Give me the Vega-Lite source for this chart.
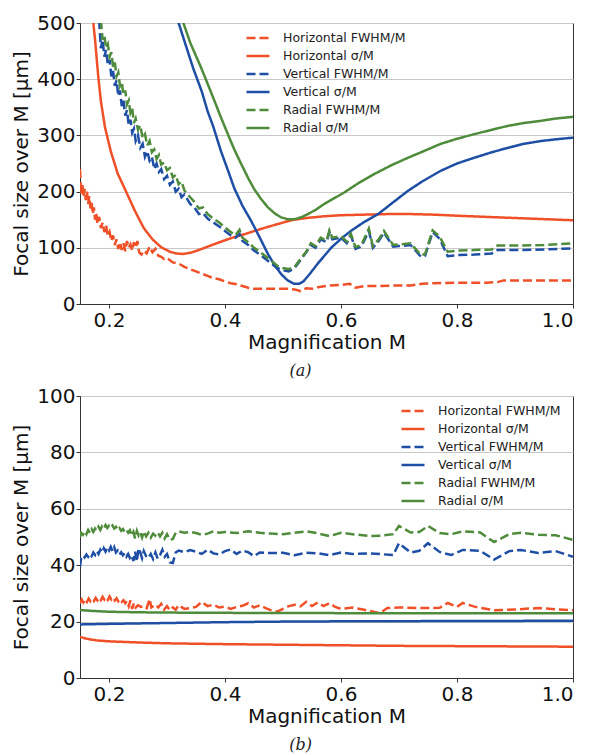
{
  "$schema": "https://vega.github.io/schema/vega-lite/v6.json",
  "background": "white",
  "padding": {"left": 11, "top": 12, "right": 0, "bottom": 0},
  "spacing": 5,
  "config": {
    "view": {"stroke": "#333333", "strokeWidth": 1},
    "axis": {
      "labelFont": "DejaVu Sans", "titleFont": "DejaVu Sans",
      "labelFontSize": 20, "titleFontSize": 20, "titleFontWeight": "normal",
      "labelColor": "#111111", "titleColor": "#111111",
      "domainColor": "#333333", "tickColor": "#333333", "tickSize": 4,
      "labelPadding": 2, "gridColor": "#c8c8c8", "gridWidth": 1
    },
    "axisY": {"labelPadding": 1},
    "legend": {
      "labelFont": "DejaVu Sans", "labelFontSize": 12.5, "labelColor": "#222222",
      "padding": 0
    },
    "title": {"font": "DejaVu Serif", "fontStyle": "italic", "fontSize": 16, "fontWeight": "normal", "color": "#222222"}
  },
  "resolve": {"scale": {"color": "independent", "strokeDash": "independent"}, "legend": {"color": "independent", "strokeDash": "independent"}},
  "datasets": {
    "a": [
      {"series":"Horizontal FWHM/M","M":0.150,"size":240},{"series":"Horizontal FWHM/M","M":0.152,"size":195},{"series":"Horizontal FWHM/M","M":0.154,"size":215},{"series":"Horizontal FWHM/M","M":0.156,"size":190},{"series":"Horizontal FWHM/M","M":0.158,"size":205},{"series":"Horizontal FWHM/M","M":0.160,"size":185},{"series":"Horizontal FWHM/M","M":0.162,"size":200},{"series":"Horizontal FWHM/M","M":0.164,"size":178},{"series":"Horizontal FWHM/M","M":0.166,"size":192},{"series":"Horizontal FWHM/M","M":0.168,"size":170},{"series":"Horizontal FWHM/M","M":0.170,"size":180},{"series":"Horizontal FWHM/M","M":0.172,"size":160},{"series":"Horizontal FWHM/M","M":0.174,"size":172},{"series":"Horizontal FWHM/M","M":0.176,"size":150},{"series":"Horizontal FWHM/M","M":0.178,"size":162},{"series":"Horizontal FWHM/M","M":0.180,"size":142},{"series":"Horizontal FWHM/M","M":0.183,"size":155},{"series":"Horizontal FWHM/M","M":0.186,"size":135},{"series":"Horizontal FWHM/M","M":0.189,"size":145},{"series":"Horizontal FWHM/M","M":0.192,"size":128},{"series":"Horizontal FWHM/M","M":0.195,"size":140},{"series":"Horizontal FWHM/M","M":0.198,"size":120},{"series":"Horizontal FWHM/M","M":0.201,"size":128},{"series":"Horizontal FWHM/M","M":0.204,"size":112},{"series":"Horizontal FWHM/M","M":0.207,"size":122},{"series":"Horizontal FWHM/M","M":0.210,"size":105},{"series":"Horizontal FWHM/M","M":0.213,"size":115},{"series":"Horizontal FWHM/M","M":0.216,"size":98},{"series":"Horizontal FWHM/M","M":0.219,"size":110},{"series":"Horizontal FWHM/M","M":0.222,"size":96},{"series":"Horizontal FWHM/M","M":0.225,"size":108},{"series":"Horizontal FWHM/M","M":0.228,"size":94},{"series":"Horizontal FWHM/M","M":0.231,"size":112},{"series":"Horizontal FWHM/M","M":0.234,"size":100},{"series":"Horizontal FWHM/M","M":0.237,"size":106},{"series":"Horizontal FWHM/M","M":0.240,"size":95},{"series":"Horizontal FWHM/M","M":0.243,"size":110},{"series":"Horizontal FWHM/M","M":0.246,"size":100},{"series":"Horizontal FWHM/M","M":0.249,"size":112},{"series":"Horizontal FWHM/M","M":0.252,"size":92},{"series":"Horizontal FWHM/M","M":0.256,"size":88},{"series":"Horizontal FWHM/M","M":0.260,"size":95},{"series":"Horizontal FWHM/M","M":0.265,"size":90},{"series":"Horizontal FWHM/M","M":0.270,"size":102},{"series":"Horizontal FWHM/M","M":0.275,"size":92},{"series":"Horizontal FWHM/M","M":0.280,"size":98},{"series":"Horizontal FWHM/M","M":0.285,"size":86},{"series":"Horizontal FWHM/M","M":0.290,"size":84},{"series":"Horizontal FWHM/M","M":0.295,"size":80},{"series":"Horizontal FWHM/M","M":0.300,"size":82},{"series":"Horizontal FWHM/M","M":0.310,"size":74},{"series":"Horizontal FWHM/M","M":0.320,"size":72},{"series":"Horizontal FWHM/M","M":0.330,"size":66},{"series":"Horizontal FWHM/M","M":0.340,"size":62},{"series":"Horizontal FWHM/M","M":0.350,"size":58},{"series":"Horizontal FWHM/M","M":0.360,"size":54},{"series":"Horizontal FWHM/M","M":0.370,"size":50},{"series":"Horizontal FWHM/M","M":0.380,"size":46},{"series":"Horizontal FWHM/M","M":0.390,"size":44},{"series":"Horizontal FWHM/M","M":0.400,"size":40},{"series":"Horizontal FWHM/M","M":0.410,"size":37},{"series":"Horizontal FWHM/M","M":0.420,"size":35},{"series":"Horizontal FWHM/M","M":0.430,"size":32},{"series":"Horizontal FWHM/M","M":0.440,"size":29},{"series":"Horizontal FWHM/M","M":0.450,"size":27},{"series":"Horizontal FWHM/M","M":0.470,"size":27},{"series":"Horizontal FWHM/M","M":0.490,"size":27},{"series":"Horizontal FWHM/M","M":0.510,"size":27},{"series":"Horizontal FWHM/M","M":0.520,"size":26},{"series":"Horizontal FWHM/M","M":0.530,"size":23},{"series":"Horizontal FWHM/M","M":0.540,"size":28},{"series":"Horizontal FWHM/M","M":0.550,"size":27},{"series":"Horizontal FWHM/M","M":0.560,"size":30},{"series":"Horizontal FWHM/M","M":0.580,"size":33},{"series":"Horizontal FWHM/M","M":0.600,"size":34},{"series":"Horizontal FWHM/M","M":0.615,"size":36},{"series":"Horizontal FWHM/M","M":0.625,"size":29},{"series":"Horizontal FWHM/M","M":0.640,"size":32},{"series":"Horizontal FWHM/M","M":0.660,"size":32},{"series":"Horizontal FWHM/M","M":0.700,"size":33},{"series":"Horizontal FWHM/M","M":0.720,"size":33},{"series":"Horizontal FWHM/M","M":0.740,"size":36},{"series":"Horizontal FWHM/M","M":0.760,"size":37},{"series":"Horizontal FWHM/M","M":0.800,"size":38},{"series":"Horizontal FWHM/M","M":0.850,"size":38},{"series":"Horizontal FWHM/M","M":0.870,"size":39},{"series":"Horizontal FWHM/M","M":0.880,"size":42},{"series":"Horizontal FWHM/M","M":0.920,"size":42},{"series":"Horizontal FWHM/M","M":1.000,"size":42},
      {"series":"Horizontal σ/M","M":0.172,"size":510},{"series":"Horizontal σ/M","M":0.176,"size":470},{"series":"Horizontal σ/M","M":0.181,"size":410},{"series":"Horizontal σ/M","M":0.186,"size":361},{"series":"Horizontal σ/M","M":0.193,"size":315},{"series":"Horizontal σ/M","M":0.203,"size":272},{"series":"Horizontal σ/M","M":0.215,"size":232},{"series":"Horizontal σ/M","M":0.229,"size":201},{"series":"Horizontal σ/M","M":0.245,"size":165},{"series":"Horizontal σ/M","M":0.260,"size":135},{"series":"Horizontal σ/M","M":0.275,"size":115},{"series":"Horizontal σ/M","M":0.290,"size":101},{"series":"Horizontal σ/M","M":0.305,"size":93},{"series":"Horizontal σ/M","M":0.315,"size":90},{"series":"Horizontal σ/M","M":0.327,"size":89},{"series":"Horizontal σ/M","M":0.340,"size":91},{"series":"Horizontal σ/M","M":0.355,"size":96},{"series":"Horizontal σ/M","M":0.370,"size":102},{"series":"Horizontal σ/M","M":0.388,"size":109},{"series":"Horizontal σ/M","M":0.410,"size":117},{"series":"Horizontal σ/M","M":0.433,"size":124},{"series":"Horizontal σ/M","M":0.460,"size":133},{"series":"Horizontal σ/M","M":0.490,"size":142},{"series":"Horizontal σ/M","M":0.514,"size":149},{"series":"Horizontal σ/M","M":0.540,"size":153},{"series":"Horizontal σ/M","M":0.570,"size":156},{"series":"Horizontal σ/M","M":0.600,"size":158},{"series":"Horizontal σ/M","M":0.640,"size":159},{"series":"Horizontal σ/M","M":0.681,"size":160},{"series":"Horizontal σ/M","M":0.720,"size":160},{"series":"Horizontal σ/M","M":0.760,"size":159},{"series":"Horizontal σ/M","M":0.802,"size":157},{"series":"Horizontal σ/M","M":0.850,"size":155},{"series":"Horizontal σ/M","M":0.900,"size":153},{"series":"Horizontal σ/M","M":0.950,"size":151},{"series":"Horizontal σ/M","M":1.000,"size":149},
      {"series":"Vertical FWHM/M","M":0.183,"size":505},{"series":"Vertical FWHM/M","M":0.186,"size":455},{"series":"Vertical FWHM/M","M":0.189,"size":470},{"series":"Vertical FWHM/M","M":0.192,"size":440},{"series":"Vertical FWHM/M","M":0.195,"size":452},{"series":"Vertical FWHM/M","M":0.198,"size":425},{"series":"Vertical FWHM/M","M":0.201,"size":435},{"series":"Vertical FWHM/M","M":0.204,"size":405},{"series":"Vertical FWHM/M","M":0.207,"size":415},{"series":"Vertical FWHM/M","M":0.210,"size":388},{"series":"Vertical FWHM/M","M":0.213,"size":398},{"series":"Vertical FWHM/M","M":0.216,"size":370},{"series":"Vertical FWHM/M","M":0.219,"size":380},{"series":"Vertical FWHM/M","M":0.222,"size":352},{"series":"Vertical FWHM/M","M":0.225,"size":362},{"series":"Vertical FWHM/M","M":0.228,"size":335},{"series":"Vertical FWHM/M","M":0.231,"size":345},{"series":"Vertical FWHM/M","M":0.234,"size":318},{"series":"Vertical FWHM/M","M":0.237,"size":328},{"series":"Vertical FWHM/M","M":0.240,"size":305},{"series":"Vertical FWHM/M","M":0.243,"size":312},{"series":"Vertical FWHM/M","M":0.246,"size":290},{"series":"Vertical FWHM/M","M":0.250,"size":300},{"series":"Vertical FWHM/M","M":0.254,"size":278},{"series":"Vertical FWHM/M","M":0.258,"size":285},{"series":"Vertical FWHM/M","M":0.262,"size":262},{"series":"Vertical FWHM/M","M":0.266,"size":272},{"series":"Vertical FWHM/M","M":0.270,"size":255},{"series":"Vertical FWHM/M","M":0.274,"size":262},{"series":"Vertical FWHM/M","M":0.278,"size":240},{"series":"Vertical FWHM/M","M":0.282,"size":250},{"series":"Vertical FWHM/M","M":0.286,"size":235},{"series":"Vertical FWHM/M","M":0.290,"size":240},{"series":"Vertical FWHM/M","M":0.295,"size":222},{"series":"Vertical FWHM/M","M":0.300,"size":228},{"series":"Vertical FWHM/M","M":0.305,"size":212},{"series":"Vertical FWHM/M","M":0.310,"size":218},{"series":"Vertical FWHM/M","M":0.315,"size":200},{"series":"Vertical FWHM/M","M":0.320,"size":205},{"series":"Vertical FWHM/M","M":0.325,"size":190},{"series":"Vertical FWHM/M","M":0.330,"size":195},{"series":"Vertical FWHM/M","M":0.340,"size":178},{"series":"Vertical FWHM/M","M":0.347,"size":172},{"series":"Vertical FWHM/M","M":0.355,"size":160},{"series":"Vertical FWHM/M","M":0.362,"size":162},{"series":"Vertical FWHM/M","M":0.370,"size":152},{"series":"Vertical FWHM/M","M":0.380,"size":145},{"series":"Vertical FWHM/M","M":0.390,"size":138},{"series":"Vertical FWHM/M","M":0.400,"size":130},{"series":"Vertical FWHM/M","M":0.410,"size":122},{"series":"Vertical FWHM/M","M":0.418,"size":118},{"series":"Vertical FWHM/M","M":0.425,"size":125},{"series":"Vertical FWHM/M","M":0.430,"size":112},{"series":"Vertical FWHM/M","M":0.440,"size":105},{"series":"Vertical FWHM/M","M":0.450,"size":95},{"series":"Vertical FWHM/M","M":0.460,"size":88},{"series":"Vertical FWHM/M","M":0.470,"size":80},{"series":"Vertical FWHM/M","M":0.480,"size":72},{"series":"Vertical FWHM/M","M":0.490,"size":64},{"series":"Vertical FWHM/M","M":0.500,"size":60},{"series":"Vertical FWHM/M","M":0.510,"size":58},{"series":"Vertical FWHM/M","M":0.520,"size":64},{"series":"Vertical FWHM/M","M":0.530,"size":78},{"series":"Vertical FWHM/M","M":0.540,"size":92},{"series":"Vertical FWHM/M","M":0.548,"size":105},{"series":"Vertical FWHM/M","M":0.556,"size":100},{"series":"Vertical FWHM/M","M":0.565,"size":115},{"series":"Vertical FWHM/M","M":0.575,"size":110},{"series":"Vertical FWHM/M","M":0.580,"size":128},{"series":"Vertical FWHM/M","M":0.585,"size":115},{"series":"Vertical FWHM/M","M":0.600,"size":118},{"series":"Vertical FWHM/M","M":0.610,"size":108},{"series":"Vertical FWHM/M","M":0.617,"size":122},{"series":"Vertical FWHM/M","M":0.625,"size":98},{"series":"Vertical FWHM/M","M":0.635,"size":102},{"series":"Vertical FWHM/M","M":0.648,"size":130},{"series":"Vertical FWHM/M","M":0.655,"size":100},{"series":"Vertical FWHM/M","M":0.665,"size":112},{"series":"Vertical FWHM/M","M":0.674,"size":127},{"series":"Vertical FWHM/M","M":0.690,"size":102},{"series":"Vertical FWHM/M","M":0.700,"size":103},{"series":"Vertical FWHM/M","M":0.720,"size":105},{"series":"Vertical FWHM/M","M":0.738,"size":84},{"series":"Vertical FWHM/M","M":0.745,"size":86},{"series":"Vertical FWHM/M","M":0.758,"size":128},{"series":"Vertical FWHM/M","M":0.770,"size":116},{"series":"Vertical FWHM/M","M":0.784,"size":85},{"series":"Vertical FWHM/M","M":0.800,"size":87},{"series":"Vertical FWHM/M","M":0.830,"size":88},{"series":"Vertical FWHM/M","M":0.860,"size":90},{"series":"Vertical FWHM/M","M":0.870,"size":96},{"series":"Vertical FWHM/M","M":0.900,"size":96},{"series":"Vertical FWHM/M","M":0.950,"size":97},{"series":"Vertical FWHM/M","M":1.000,"size":99},
      {"series":"Vertical σ/M","M":0.317,"size":510},{"series":"Vertical σ/M","M":0.330,"size":468},{"series":"Vertical σ/M","M":0.345,"size":420},{"series":"Vertical σ/M","M":0.360,"size":378},{"series":"Vertical σ/M","M":0.370,"size":343},{"series":"Vertical σ/M","M":0.380,"size":315},{"series":"Vertical σ/M","M":0.393,"size":272},{"series":"Vertical σ/M","M":0.405,"size":238},{"series":"Vertical σ/M","M":0.416,"size":206},{"series":"Vertical σ/M","M":0.430,"size":175},{"series":"Vertical σ/M","M":0.445,"size":148},{"series":"Vertical σ/M","M":0.460,"size":118},{"series":"Vertical σ/M","M":0.474,"size":89},{"series":"Vertical σ/M","M":0.485,"size":70},{"series":"Vertical σ/M","M":0.497,"size":53},{"series":"Vertical σ/M","M":0.508,"size":42},{"series":"Vertical σ/M","M":0.519,"size":36},{"series":"Vertical σ/M","M":0.528,"size":36},{"series":"Vertical σ/M","M":0.535,"size":40},{"series":"Vertical σ/M","M":0.545,"size":52},{"series":"Vertical σ/M","M":0.560,"size":72},{"series":"Vertical σ/M","M":0.583,"size":100},{"series":"Vertical σ/M","M":0.600,"size":116},{"series":"Vertical σ/M","M":0.617,"size":130},{"series":"Vertical σ/M","M":0.640,"size":146},{"series":"Vertical σ/M","M":0.664,"size":160},{"series":"Vertical σ/M","M":0.690,"size":181},{"series":"Vertical σ/M","M":0.715,"size":201},{"series":"Vertical σ/M","M":0.740,"size":218},{"series":"Vertical σ/M","M":0.772,"size":237},{"series":"Vertical σ/M","M":0.800,"size":250},{"series":"Vertical σ/M","M":0.829,"size":260},{"series":"Vertical σ/M","M":0.860,"size":270},{"series":"Vertical σ/M","M":0.888,"size":278},{"series":"Vertical σ/M","M":0.915,"size":285},{"series":"Vertical σ/M","M":0.945,"size":290},{"series":"Vertical σ/M","M":0.970,"size":293},{"series":"Vertical σ/M","M":1.000,"size":296},
      {"series":"Radial FWHM/M","M":0.186,"size":505},{"series":"Radial FWHM/M","M":0.189,"size":470},{"series":"Radial FWHM/M","M":0.192,"size":478},{"series":"Radial FWHM/M","M":0.195,"size":455},{"series":"Radial FWHM/M","M":0.198,"size":462},{"series":"Radial FWHM/M","M":0.201,"size":440},{"series":"Radial FWHM/M","M":0.204,"size":448},{"series":"Radial FWHM/M","M":0.207,"size":422},{"series":"Radial FWHM/M","M":0.210,"size":430},{"series":"Radial FWHM/M","M":0.213,"size":405},{"series":"Radial FWHM/M","M":0.216,"size":412},{"series":"Radial FWHM/M","M":0.219,"size":388},{"series":"Radial FWHM/M","M":0.222,"size":395},{"series":"Radial FWHM/M","M":0.225,"size":372},{"series":"Radial FWHM/M","M":0.228,"size":380},{"series":"Radial FWHM/M","M":0.231,"size":355},{"series":"Radial FWHM/M","M":0.234,"size":362},{"series":"Radial FWHM/M","M":0.237,"size":340},{"series":"Radial FWHM/M","M":0.240,"size":348},{"series":"Radial FWHM/M","M":0.243,"size":322},{"series":"Radial FWHM/M","M":0.246,"size":330},{"series":"Radial FWHM/M","M":0.250,"size":310},{"series":"Radial FWHM/M","M":0.254,"size":318},{"series":"Radial FWHM/M","M":0.258,"size":295},{"series":"Radial FWHM/M","M":0.262,"size":302},{"series":"Radial FWHM/M","M":0.266,"size":282},{"series":"Radial FWHM/M","M":0.270,"size":290},{"series":"Radial FWHM/M","M":0.274,"size":270},{"series":"Radial FWHM/M","M":0.278,"size":275},{"series":"Radial FWHM/M","M":0.282,"size":258},{"series":"Radial FWHM/M","M":0.286,"size":265},{"series":"Radial FWHM/M","M":0.290,"size":248},{"series":"Radial FWHM/M","M":0.295,"size":252},{"series":"Radial FWHM/M","M":0.300,"size":238},{"series":"Radial FWHM/M","M":0.305,"size":242},{"series":"Radial FWHM/M","M":0.310,"size":225},{"series":"Radial FWHM/M","M":0.315,"size":230},{"series":"Radial FWHM/M","M":0.320,"size":213},{"series":"Radial FWHM/M","M":0.325,"size":218},{"series":"Radial FWHM/M","M":0.330,"size":202},{"series":"Radial FWHM/M","M":0.340,"size":190},{"series":"Radial FWHM/M","M":0.347,"size":182},{"series":"Radial FWHM/M","M":0.355,"size":170},{"series":"Radial FWHM/M","M":0.362,"size":172},{"series":"Radial FWHM/M","M":0.370,"size":160},{"series":"Radial FWHM/M","M":0.380,"size":152},{"series":"Radial FWHM/M","M":0.390,"size":145},{"series":"Radial FWHM/M","M":0.400,"size":136},{"series":"Radial FWHM/M","M":0.410,"size":128},{"series":"Radial FWHM/M","M":0.418,"size":122},{"series":"Radial FWHM/M","M":0.425,"size":132},{"series":"Radial FWHM/M","M":0.430,"size":118},{"series":"Radial FWHM/M","M":0.440,"size":110},{"series":"Radial FWHM/M","M":0.450,"size":100},{"series":"Radial FWHM/M","M":0.460,"size":93},{"series":"Radial FWHM/M","M":0.470,"size":85},{"series":"Radial FWHM/M","M":0.480,"size":77},{"series":"Radial FWHM/M","M":0.490,"size":68},{"series":"Radial FWHM/M","M":0.500,"size":64},{"series":"Radial FWHM/M","M":0.510,"size":62},{"series":"Radial FWHM/M","M":0.520,"size":66},{"series":"Radial FWHM/M","M":0.530,"size":80},{"series":"Radial FWHM/M","M":0.540,"size":93},{"series":"Radial FWHM/M","M":0.548,"size":108},{"series":"Radial FWHM/M","M":0.556,"size":103},{"series":"Radial FWHM/M","M":0.565,"size":118},{"series":"Radial FWHM/M","M":0.575,"size":113},{"series":"Radial FWHM/M","M":0.580,"size":131},{"series":"Radial FWHM/M","M":0.585,"size":118},{"series":"Radial FWHM/M","M":0.600,"size":121},{"series":"Radial FWHM/M","M":0.610,"size":111},{"series":"Radial FWHM/M","M":0.617,"size":125},{"series":"Radial FWHM/M","M":0.625,"size":101},{"series":"Radial FWHM/M","M":0.635,"size":105},{"series":"Radial FWHM/M","M":0.648,"size":134},{"series":"Radial FWHM/M","M":0.655,"size":103},{"series":"Radial FWHM/M","M":0.665,"size":115},{"series":"Radial FWHM/M","M":0.674,"size":130},{"series":"Radial FWHM/M","M":0.690,"size":105},{"series":"Radial FWHM/M","M":0.700,"size":106},{"series":"Radial FWHM/M","M":0.720,"size":108},{"series":"Radial FWHM/M","M":0.738,"size":87},{"series":"Radial FWHM/M","M":0.745,"size":89},{"series":"Radial FWHM/M","M":0.758,"size":131},{"series":"Radial FWHM/M","M":0.770,"size":120},{"series":"Radial FWHM/M","M":0.784,"size":93},{"series":"Radial FWHM/M","M":0.800,"size":95},{"series":"Radial FWHM/M","M":0.830,"size":96},{"series":"Radial FWHM/M","M":0.860,"size":97},{"series":"Radial FWHM/M","M":0.870,"size":104},{"series":"Radial FWHM/M","M":0.900,"size":104},{"series":"Radial FWHM/M","M":0.950,"size":105},{"series":"Radial FWHM/M","M":1.000,"size":108},
      {"series":"Radial σ/M","M":0.325,"size":510},{"series":"Radial σ/M","M":0.340,"size":465},{"series":"Radial σ/M","M":0.359,"size":420},{"series":"Radial σ/M","M":0.370,"size":392},{"series":"Radial σ/M","M":0.382,"size":361},{"series":"Radial σ/M","M":0.393,"size":332},{"series":"Radial σ/M","M":0.405,"size":302},{"series":"Radial σ/M","M":0.416,"size":275},{"series":"Radial σ/M","M":0.428,"size":249},{"series":"Radial σ/M","M":0.440,"size":224},{"series":"Radial σ/M","M":0.450,"size":205},{"series":"Radial σ/M","M":0.462,"size":187},{"series":"Radial σ/M","M":0.474,"size":172},{"series":"Radial σ/M","M":0.486,"size":161},{"series":"Radial σ/M","M":0.497,"size":154},{"series":"Radial σ/M","M":0.508,"size":151},{"series":"Radial σ/M","M":0.520,"size":151},{"series":"Radial σ/M","M":0.531,"size":154},{"series":"Radial σ/M","M":0.543,"size":160},{"series":"Radial σ/M","M":0.557,"size":168},{"series":"Radial σ/M","M":0.571,"size":178},{"series":"Radial σ/M","M":0.588,"size":188},{"series":"Radial σ/M","M":0.605,"size":198},{"series":"Radial σ/M","M":0.630,"size":215},{"series":"Radial σ/M","M":0.657,"size":231},{"series":"Radial σ/M","M":0.685,"size":246},{"series":"Radial σ/M","M":0.715,"size":260},{"series":"Radial σ/M","M":0.745,"size":273},{"series":"Radial σ/M","M":0.772,"size":285},{"series":"Radial σ/M","M":0.800,"size":294},{"series":"Radial σ/M","M":0.829,"size":302},{"series":"Radial σ/M","M":0.860,"size":310},{"series":"Radial σ/M","M":0.888,"size":317},{"series":"Radial σ/M","M":0.915,"size":322},{"series":"Radial σ/M","M":0.945,"size":326},{"series":"Radial σ/M","M":0.970,"size":330},{"series":"Radial σ/M","M":1.000,"size":333}
    ],
    "b": [
      {"series":"Horizontal FWHM/M","M":0.150,"size":26.5},{"series":"Horizontal FWHM/M","M":0.153,"size":27.8},{"series":"Horizontal FWHM/M","M":0.156,"size":26.8},{"series":"Horizontal FWHM/M","M":0.159,"size":28.0},{"series":"Horizontal FWHM/M","M":0.162,"size":27.0},{"series":"Horizontal FWHM/M","M":0.165,"size":28.2},{"series":"Horizontal FWHM/M","M":0.168,"size":27.2},{"series":"Horizontal FWHM/M","M":0.171,"size":28.0},{"series":"Horizontal FWHM/M","M":0.174,"size":27.3},{"series":"Horizontal FWHM/M","M":0.177,"size":28.4},{"series":"Horizontal FWHM/M","M":0.180,"size":27.5},{"series":"Horizontal FWHM/M","M":0.183,"size":28.5},{"series":"Horizontal FWHM/M","M":0.186,"size":27.6},{"series":"Horizontal FWHM/M","M":0.189,"size":28.8},{"series":"Horizontal FWHM/M","M":0.192,"size":27.8},{"series":"Horizontal FWHM/M","M":0.195,"size":28.6},{"series":"Horizontal FWHM/M","M":0.198,"size":27.7},{"series":"Horizontal FWHM/M","M":0.201,"size":28.9},{"series":"Horizontal FWHM/M","M":0.204,"size":27.8},{"series":"Horizontal FWHM/M","M":0.207,"size":28.5},{"series":"Horizontal FWHM/M","M":0.210,"size":27.5},{"series":"Horizontal FWHM/M","M":0.213,"size":28.3},{"series":"Horizontal FWHM/M","M":0.216,"size":27.2},{"series":"Horizontal FWHM/M","M":0.219,"size":27.9},{"series":"Horizontal FWHM/M","M":0.222,"size":27.0},{"series":"Horizontal FWHM/M","M":0.225,"size":27.6},{"series":"Horizontal FWHM/M","M":0.228,"size":26.5},{"series":"Horizontal FWHM/M","M":0.231,"size":27.3},{"series":"Horizontal FWHM/M","M":0.234,"size":25.5},{"series":"Horizontal FWHM/M","M":0.237,"size":27.5},{"series":"Horizontal FWHM/M","M":0.240,"size":24.5},{"series":"Horizontal FWHM/M","M":0.243,"size":26.5},{"series":"Horizontal FWHM/M","M":0.246,"size":25.0},{"series":"Horizontal FWHM/M","M":0.250,"size":25.8},{"series":"Horizontal FWHM/M","M":0.255,"size":25.2},{"series":"Horizontal FWHM/M","M":0.260,"size":25.6},{"series":"Horizontal FWHM/M","M":0.265,"size":24.8},{"series":"Horizontal FWHM/M","M":0.270,"size":28.0},{"series":"Horizontal FWHM/M","M":0.273,"size":25.0},{"series":"Horizontal FWHM/M","M":0.280,"size":26.0},{"series":"Horizontal FWHM/M","M":0.285,"size":25.0},{"series":"Horizontal FWHM/M","M":0.290,"size":26.3},{"series":"Horizontal FWHM/M","M":0.295,"size":24.2},{"series":"Horizontal FWHM/M","M":0.300,"size":25.5},{"series":"Horizontal FWHM/M","M":0.305,"size":24.0},{"series":"Horizontal FWHM/M","M":0.310,"size":25.0},{"series":"Horizontal FWHM/M","M":0.315,"size":24.2},{"series":"Horizontal FWHM/M","M":0.320,"size":25.8},{"series":"Horizontal FWHM/M","M":0.330,"size":24.5},{"series":"Horizontal FWHM/M","M":0.340,"size":24.8},{"series":"Horizontal FWHM/M","M":0.350,"size":25.2},{"series":"Horizontal FWHM/M","M":0.360,"size":27.0},{"series":"Horizontal FWHM/M","M":0.370,"size":25.5},{"series":"Horizontal FWHM/M","M":0.380,"size":26.0},{"series":"Horizontal FWHM/M","M":0.390,"size":25.0},{"series":"Horizontal FWHM/M","M":0.400,"size":25.3},{"series":"Horizontal FWHM/M","M":0.410,"size":24.5},{"series":"Horizontal FWHM/M","M":0.420,"size":25.2},{"series":"Horizontal FWHM/M","M":0.430,"size":25.6},{"series":"Horizontal FWHM/M","M":0.440,"size":26.5},{"series":"Horizontal FWHM/M","M":0.450,"size":25.0},{"series":"Horizontal FWHM/M","M":0.460,"size":25.8},{"series":"Horizontal FWHM/M","M":0.470,"size":24.8},{"series":"Horizontal FWHM/M","M":0.480,"size":24.0},{"series":"Horizontal FWHM/M","M":0.490,"size":23.5},{"series":"Horizontal FWHM/M","M":0.500,"size":24.5},{"series":"Horizontal FWHM/M","M":0.510,"size":25.5},{"series":"Horizontal FWHM/M","M":0.520,"size":26.0},{"series":"Horizontal FWHM/M","M":0.530,"size":25.4},{"series":"Horizontal FWHM/M","M":0.540,"size":27.0},{"series":"Horizontal FWHM/M","M":0.550,"size":25.5},{"series":"Horizontal FWHM/M","M":0.560,"size":26.8},{"series":"Horizontal FWHM/M","M":0.570,"size":25.5},{"series":"Horizontal FWHM/M","M":0.580,"size":26.5},{"series":"Horizontal FWHM/M","M":0.590,"size":25.2},{"series":"Horizontal FWHM/M","M":0.600,"size":24.5},{"series":"Horizontal FWHM/M","M":0.620,"size":25.0},{"series":"Horizontal FWHM/M","M":0.640,"size":24.2},{"series":"Horizontal FWHM/M","M":0.667,"size":23.0},{"series":"Horizontal FWHM/M","M":0.680,"size":24.8},{"series":"Horizontal FWHM/M","M":0.700,"size":25.0},{"series":"Horizontal FWHM/M","M":0.740,"size":24.8},{"series":"Horizontal FWHM/M","M":0.770,"size":24.9},{"series":"Horizontal FWHM/M","M":0.784,"size":26.6},{"series":"Horizontal FWHM/M","M":0.800,"size":25.2},{"series":"Horizontal FWHM/M","M":0.810,"size":26.6},{"series":"Horizontal FWHM/M","M":0.830,"size":25.3},{"series":"Horizontal FWHM/M","M":0.864,"size":24.0},{"series":"Horizontal FWHM/M","M":0.900,"size":24.3},{"series":"Horizontal FWHM/M","M":0.940,"size":24.8},{"series":"Horizontal FWHM/M","M":0.970,"size":24.4},{"series":"Horizontal FWHM/M","M":1.000,"size":24.0},
      {"series":"Horizontal σ/M","M":0.150,"size":14.6},{"series":"Horizontal σ/M","M":0.160,"size":14.0},{"series":"Horizontal σ/M","M":0.170,"size":13.6},{"series":"Horizontal σ/M","M":0.180,"size":13.3},{"series":"Horizontal σ/M","M":0.200,"size":13.0},{"series":"Horizontal σ/M","M":0.250,"size":12.6},{"series":"Horizontal σ/M","M":0.300,"size":12.3},{"series":"Horizontal σ/M","M":0.400,"size":12.0},{"series":"Horizontal σ/M","M":0.500,"size":11.8},{"series":"Horizontal σ/M","M":0.600,"size":11.6},{"series":"Horizontal σ/M","M":0.700,"size":11.4},{"series":"Horizontal σ/M","M":0.800,"size":11.3},{"series":"Horizontal σ/M","M":0.900,"size":11.2},{"series":"Horizontal σ/M","M":1.000,"size":11.1},
      {"series":"Vertical FWHM/M","M":0.150,"size":39.5},{"series":"Vertical FWHM/M","M":0.152,"size":42.5},{"series":"Vertical FWHM/M","M":0.155,"size":43.5},{"series":"Vertical FWHM/M","M":0.158,"size":42.8},{"series":"Vertical FWHM/M","M":0.161,"size":43.8},{"series":"Vertical FWHM/M","M":0.164,"size":43.0},{"series":"Vertical FWHM/M","M":0.167,"size":44.0},{"series":"Vertical FWHM/M","M":0.170,"size":43.2},{"series":"Vertical FWHM/M","M":0.173,"size":44.5},{"series":"Vertical FWHM/M","M":0.176,"size":43.6},{"series":"Vertical FWHM/M","M":0.179,"size":45.0},{"series":"Vertical FWHM/M","M":0.182,"size":44.0},{"series":"Vertical FWHM/M","M":0.185,"size":45.5},{"series":"Vertical FWHM/M","M":0.188,"size":44.5},{"series":"Vertical FWHM/M","M":0.191,"size":46.0},{"series":"Vertical FWHM/M","M":0.194,"size":44.8},{"series":"Vertical FWHM/M","M":0.197,"size":46.2},{"series":"Vertical FWHM/M","M":0.200,"size":45.2},{"series":"Vertical FWHM/M","M":0.203,"size":46.5},{"series":"Vertical FWHM/M","M":0.206,"size":45.0},{"series":"Vertical FWHM/M","M":0.209,"size":46.4},{"series":"Vertical FWHM/M","M":0.212,"size":44.5},{"series":"Vertical FWHM/M","M":0.215,"size":45.2},{"series":"Vertical FWHM/M","M":0.218,"size":43.8},{"series":"Vertical FWHM/M","M":0.221,"size":44.6},{"series":"Vertical FWHM/M","M":0.224,"size":43.5},{"series":"Vertical FWHM/M","M":0.227,"size":44.3},{"series":"Vertical FWHM/M","M":0.230,"size":43.0},{"series":"Vertical FWHM/M","M":0.233,"size":44.0},{"series":"Vertical FWHM/M","M":0.236,"size":42.6},{"series":"Vertical FWHM/M","M":0.239,"size":43.5},{"series":"Vertical FWHM/M","M":0.242,"size":41.5},{"series":"Vertical FWHM/M","M":0.245,"size":44.8},{"series":"Vertical FWHM/M","M":0.248,"size":41.3},{"series":"Vertical FWHM/M","M":0.251,"size":46.0},{"series":"Vertical FWHM/M","M":0.254,"size":44.5},{"series":"Vertical FWHM/M","M":0.257,"size":42.5},{"series":"Vertical FWHM/M","M":0.260,"size":45.0},{"series":"Vertical FWHM/M","M":0.264,"size":43.2},{"series":"Vertical FWHM/M","M":0.268,"size":42.5},{"series":"Vertical FWHM/M","M":0.272,"size":44.0},{"series":"Vertical FWHM/M","M":0.276,"size":42.2},{"series":"Vertical FWHM/M","M":0.280,"size":44.5},{"series":"Vertical FWHM/M","M":0.284,"size":42.3},{"series":"Vertical FWHM/M","M":0.288,"size":43.6},{"series":"Vertical FWHM/M","M":0.292,"size":45.5},{"series":"Vertical FWHM/M","M":0.296,"size":43.0},{"series":"Vertical FWHM/M","M":0.300,"size":44.0},{"series":"Vertical FWHM/M","M":0.305,"size":41.0},{"series":"Vertical FWHM/M","M":0.310,"size":40.8},{"series":"Vertical FWHM/M","M":0.315,"size":44.5},{"series":"Vertical FWHM/M","M":0.320,"size":45.2},{"series":"Vertical FWHM/M","M":0.330,"size":44.6},{"series":"Vertical FWHM/M","M":0.340,"size":45.4},{"series":"Vertical FWHM/M","M":0.350,"size":44.8},{"series":"Vertical FWHM/M","M":0.360,"size":44.0},{"series":"Vertical FWHM/M","M":0.370,"size":45.5},{"series":"Vertical FWHM/M","M":0.380,"size":44.2},{"series":"Vertical FWHM/M","M":0.390,"size":43.8},{"series":"Vertical FWHM/M","M":0.400,"size":45.0},{"series":"Vertical FWHM/M","M":0.410,"size":45.6},{"series":"Vertical FWHM/M","M":0.420,"size":44.0},{"series":"Vertical FWHM/M","M":0.430,"size":45.2},{"series":"Vertical FWHM/M","M":0.440,"size":44.6},{"series":"Vertical FWHM/M","M":0.450,"size":43.2},{"series":"Vertical FWHM/M","M":0.460,"size":44.5},{"series":"Vertical FWHM/M","M":0.480,"size":44.3},{"series":"Vertical FWHM/M","M":0.500,"size":44.4},{"series":"Vertical FWHM/M","M":0.520,"size":43.5},{"series":"Vertical FWHM/M","M":0.540,"size":44.4},{"series":"Vertical FWHM/M","M":0.560,"size":44.2},{"series":"Vertical FWHM/M","M":0.580,"size":43.6},{"series":"Vertical FWHM/M","M":0.600,"size":44.5},{"series":"Vertical FWHM/M","M":0.620,"size":44.0},{"series":"Vertical FWHM/M","M":0.650,"size":44.2},{"series":"Vertical FWHM/M","M":0.690,"size":43.6},{"series":"Vertical FWHM/M","M":0.700,"size":47.8},{"series":"Vertical FWHM/M","M":0.720,"size":44.5},{"series":"Vertical FWHM/M","M":0.735,"size":45.1},{"series":"Vertical FWHM/M","M":0.750,"size":47.8},{"series":"Vertical FWHM/M","M":0.770,"size":44.7},{"series":"Vertical FWHM/M","M":0.790,"size":43.6},{"series":"Vertical FWHM/M","M":0.810,"size":45.4},{"series":"Vertical FWHM/M","M":0.840,"size":45.1},{"series":"Vertical FWHM/M","M":0.864,"size":42.0},{"series":"Vertical FWHM/M","M":0.890,"size":45.0},{"series":"Vertical FWHM/M","M":0.910,"size":45.4},{"series":"Vertical FWHM/M","M":0.940,"size":44.3},{"series":"Vertical FWHM/M","M":0.970,"size":45.0},{"series":"Vertical FWHM/M","M":1.000,"size":43.0},
      {"series":"Vertical σ/M","M":0.150,"size":19.0},{"series":"Vertical σ/M","M":0.200,"size":19.2},{"series":"Vertical σ/M","M":0.300,"size":19.5},{"series":"Vertical σ/M","M":0.400,"size":19.8},{"series":"Vertical σ/M","M":0.500,"size":20.0},{"series":"Vertical σ/M","M":0.600,"size":20.1},{"series":"Vertical σ/M","M":0.800,"size":20.2},{"series":"Vertical σ/M","M":1.000,"size":20.3},
      {"series":"Radial FWHM/M","M":0.150,"size":50.0},{"series":"Radial FWHM/M","M":0.152,"size":51.5},{"series":"Radial FWHM/M","M":0.155,"size":50.8},{"series":"Radial FWHM/M","M":0.158,"size":52.0},{"series":"Radial FWHM/M","M":0.161,"size":51.0},{"series":"Radial FWHM/M","M":0.164,"size":52.5},{"series":"Radial FWHM/M","M":0.167,"size":51.5},{"series":"Radial FWHM/M","M":0.170,"size":52.8},{"series":"Radial FWHM/M","M":0.173,"size":51.8},{"series":"Radial FWHM/M","M":0.176,"size":53.0},{"series":"Radial FWHM/M","M":0.179,"size":52.2},{"series":"Radial FWHM/M","M":0.182,"size":53.6},{"series":"Radial FWHM/M","M":0.185,"size":52.5},{"series":"Radial FWHM/M","M":0.188,"size":53.8},{"series":"Radial FWHM/M","M":0.191,"size":53.0},{"series":"Radial FWHM/M","M":0.194,"size":54.2},{"series":"Radial FWHM/M","M":0.197,"size":53.2},{"series":"Radial FWHM/M","M":0.200,"size":54.0},{"series":"Radial FWHM/M","M":0.203,"size":53.3},{"series":"Radial FWHM/M","M":0.206,"size":54.1},{"series":"Radial FWHM/M","M":0.209,"size":53.0},{"series":"Radial FWHM/M","M":0.212,"size":53.6},{"series":"Radial FWHM/M","M":0.215,"size":52.5},{"series":"Radial FWHM/M","M":0.218,"size":53.2},{"series":"Radial FWHM/M","M":0.221,"size":52.2},{"series":"Radial FWHM/M","M":0.224,"size":52.8},{"series":"Radial FWHM/M","M":0.227,"size":51.8},{"series":"Radial FWHM/M","M":0.230,"size":52.5},{"series":"Radial FWHM/M","M":0.233,"size":51.5},{"series":"Radial FWHM/M","M":0.236,"size":52.4},{"series":"Radial FWHM/M","M":0.239,"size":50.5},{"series":"Radial FWHM/M","M":0.242,"size":51.8},{"series":"Radial FWHM/M","M":0.245,"size":49.5},{"series":"Radial FWHM/M","M":0.248,"size":52.2},{"series":"Radial FWHM/M","M":0.251,"size":50.5},{"series":"Radial FWHM/M","M":0.254,"size":51.6},{"series":"Radial FWHM/M","M":0.257,"size":49.8},{"series":"Radial FWHM/M","M":0.260,"size":52.0},{"series":"Radial FWHM/M","M":0.264,"size":50.2},{"series":"Radial FWHM/M","M":0.268,"size":51.5},{"series":"Radial FWHM/M","M":0.272,"size":49.8},{"series":"Radial FWHM/M","M":0.276,"size":51.2},{"series":"Radial FWHM/M","M":0.280,"size":50.5},{"series":"Radial FWHM/M","M":0.284,"size":51.6},{"series":"Radial FWHM/M","M":0.288,"size":50.2},{"series":"Radial FWHM/M","M":0.292,"size":51.5},{"series":"Radial FWHM/M","M":0.296,"size":49.5},{"series":"Radial FWHM/M","M":0.300,"size":51.0},{"series":"Radial FWHM/M","M":0.305,"size":49.0},{"series":"Radial FWHM/M","M":0.310,"size":49.3},{"series":"Radial FWHM/M","M":0.315,"size":51.5},{"series":"Radial FWHM/M","M":0.320,"size":52.0},{"series":"Radial FWHM/M","M":0.330,"size":51.5},{"series":"Radial FWHM/M","M":0.340,"size":51.8},{"series":"Radial FWHM/M","M":0.350,"size":51.4},{"series":"Radial FWHM/M","M":0.360,"size":50.8},{"series":"Radial FWHM/M","M":0.370,"size":51.2},{"series":"Radial FWHM/M","M":0.380,"size":52.0},{"series":"Radial FWHM/M","M":0.390,"size":51.5},{"series":"Radial FWHM/M","M":0.400,"size":51.8},{"series":"Radial FWHM/M","M":0.420,"size":51.4},{"series":"Radial FWHM/M","M":0.440,"size":52.0},{"series":"Radial FWHM/M","M":0.460,"size":51.5},{"series":"Radial FWHM/M","M":0.480,"size":51.2},{"series":"Radial FWHM/M","M":0.500,"size":51.0},{"series":"Radial FWHM/M","M":0.520,"size":51.5},{"series":"Radial FWHM/M","M":0.540,"size":52.0},{"series":"Radial FWHM/M","M":0.560,"size":51.3},{"series":"Radial FWHM/M","M":0.580,"size":50.3},{"series":"Radial FWHM/M","M":0.600,"size":51.5},{"series":"Radial FWHM/M","M":0.620,"size":51.0},{"series":"Radial FWHM/M","M":0.650,"size":50.3},{"series":"Radial FWHM/M","M":0.670,"size":50.5},{"series":"Radial FWHM/M","M":0.690,"size":51.0},{"series":"Radial FWHM/M","M":0.700,"size":53.9},{"series":"Radial FWHM/M","M":0.720,"size":51.6},{"series":"Radial FWHM/M","M":0.735,"size":51.8},{"series":"Radial FWHM/M","M":0.750,"size":53.9},{"series":"Radial FWHM/M","M":0.770,"size":51.4},{"series":"Radial FWHM/M","M":0.790,"size":51.0},{"series":"Radial FWHM/M","M":0.810,"size":52.0},{"series":"Radial FWHM/M","M":0.840,"size":51.6},{"series":"Radial FWHM/M","M":0.864,"size":48.2},{"series":"Radial FWHM/M","M":0.890,"size":51.0},{"series":"Radial FWHM/M","M":0.910,"size":51.5},{"series":"Radial FWHM/M","M":0.940,"size":50.8},{"series":"Radial FWHM/M","M":0.970,"size":50.6},{"series":"Radial FWHM/M","M":1.000,"size":49.0},
      {"series":"Radial σ/M","M":0.150,"size":24.1},{"series":"Radial σ/M","M":0.170,"size":23.8},{"series":"Radial σ/M","M":0.200,"size":23.5},{"series":"Radial σ/M","M":0.250,"size":23.3},{"series":"Radial σ/M","M":0.300,"size":23.2},{"series":"Radial σ/M","M":0.400,"size":23.1},{"series":"Radial σ/M","M":0.600,"size":23.0},{"series":"Radial σ/M","M":0.800,"size":23.0},{"series":"Radial σ/M","M":1.000,"size":23.0}
    ]
  },
  "vconcat": [
    {
      "width": 493, "height": 281,
      "title": {"text": "(a)", "orient": "bottom", "dx": -26, "offset": 11},
      "data": {"name": "a"},
      "mark": {"type": "line", "strokeWidth": 2.5, "clip": true},
      "encoding": {
        "x": {"field": "M", "type": "quantitative", "scale": {"domain": [0.15, 1.0], "nice": false, "zero": false},
              "axis": {"values": [0.2, 0.4, 0.6, 0.8, 1.0], "format": ".1f", "grid": false, "title": "Magnification M", "titlePadding": 2}},
        "y": {"field": "size", "type": "quantitative", "scale": {"domain": [0, 500], "nice": false},
              "axis": {"values": [0, 100, 200, 300, 400, 500], "grid": true, "title": "Focal size over M [μm]", "titlePadding": 5}},
        "color": {"field": "series", "type": "nominal",
                  "scale": {"domain": ["Horizontal FWHM/M", "Horizontal σ/M", "Vertical FWHM/M", "Vertical σ/M", "Radial FWHM/M", "Radial σ/M"],
                            "range": ["#f05028", "#f05028", "#1f4fa5", "#1f4fa5", "#4e8b3a", "#4e8b3a"]},
                  "legend": {"title": null, "orient": "none", "legendX": 171, "legendY": 8, "symbolType": "M-2,0H2", "symbolSize": 132, "symbolStrokeWidth": 2.5, "labelOffset": 18, "rowPadding": 4}},
        "strokeDash": {"field": "series", "type": "nominal",
                  "scale": {"domain": ["Horizontal FWHM/M", "Horizontal σ/M", "Vertical FWHM/M", "Vertical σ/M", "Radial FWHM/M", "Radial σ/M"],
                            "range": [[9, 4], [1, 0], [9, 4], [1, 0], [9, 4], [1, 0]]},
                  "legend": {"title": null, "orient": "none", "legendX": 171, "legendY": 8, "symbolType": "M-2,0H2", "symbolSize": 132, "symbolStrokeWidth": 2.5, "labelOffset": 18, "rowPadding": 4}}
      }
    },
    {
      "width": 493, "height": 282,
      "title": {"text": "(b)", "orient": "bottom", "dx": -26, "offset": 11},
      "data": {"name": "b"},
      "mark": {"type": "line", "strokeWidth": 2.5, "clip": true},
      "encoding": {
        "x": {"field": "M", "type": "quantitative", "scale": {"domain": [0.15, 1.0], "nice": false, "zero": false},
              "axis": {"values": [0.2, 0.4, 0.6, 0.8, 1.0], "format": ".1f", "grid": false, "title": "Magnification M", "titlePadding": 2}},
        "y": {"field": "size", "type": "quantitative", "scale": {"domain": [0, 100], "nice": false},
              "axis": {"values": [0, 20, 40, 60, 80, 100], "grid": true, "title": "Focal size over M [μm]", "titlePadding": 5}},
        "color": {"field": "series", "type": "nominal",
                  "scale": {"domain": ["Horizontal FWHM/M", "Horizontal σ/M", "Vertical FWHM/M", "Vertical σ/M", "Radial FWHM/M", "Radial σ/M"],
                            "range": ["#f05028", "#f05028", "#1f4fa5", "#1f4fa5", "#4e8b3a", "#4e8b3a"]},
                  "legend": {"title": null, "orient": "none", "legendX": 326, "legendY": 8, "symbolType": "M-2,0H2", "symbolSize": 132, "symbolStrokeWidth": 2.5, "labelOffset": 18, "rowPadding": 4}},
        "strokeDash": {"field": "series", "type": "nominal",
                  "scale": {"domain": ["Horizontal FWHM/M", "Horizontal σ/M", "Vertical FWHM/M", "Vertical σ/M", "Radial FWHM/M", "Radial σ/M"],
                            "range": [[9, 4], [1, 0], [9, 4], [1, 0], [9, 4], [1, 0]]},
                  "legend": {"title": null, "orient": "none", "legendX": 326, "legendY": 8, "symbolType": "M-2,0H2", "symbolSize": 132, "symbolStrokeWidth": 2.5, "labelOffset": 18, "rowPadding": 4}}
      }
    }
  ]
}
